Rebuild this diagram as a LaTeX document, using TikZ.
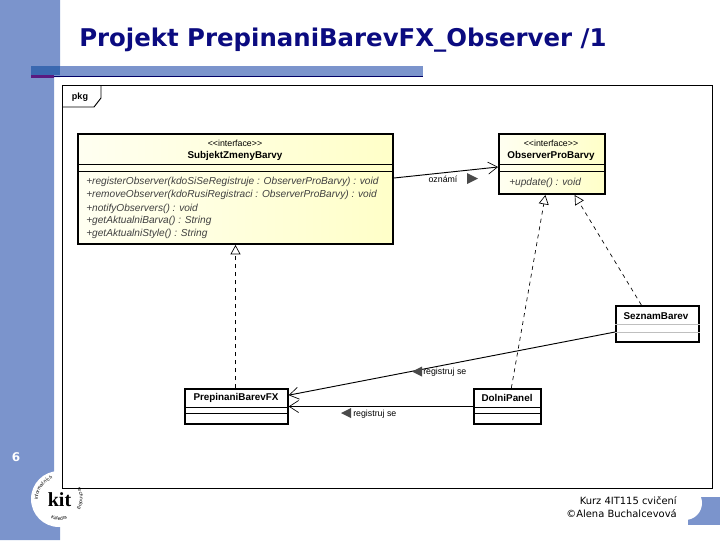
\documentclass[tikz,border=0pt]{standalone}
\usepackage{fontspec}
\setmainfont{Liberation Sans}
\newfontfamily\titlefont{DejaVu Sans}
\newfontfamily\kitfont{Liberation Serif}
\usetikzlibrary{arrows.meta,decorations.text}
\definecolor{slideblue}{HTML}{7B94CC}
\definecolor{bardark}{HTML}{3A68B0}
\definecolor{barpurple}{HTML}{5A1A80}
\definecolor{titleblue}{HTML}{0B0B80}
\definecolor{umlyellow}{HTML}{FFFFC8}
\definecolor{markgray}{HTML}{4A4A4A}
\tikzset{
  umlbox/.style={draw=black,line width=1.5pt,anchor=north west,inner sep=0pt},
  ifacebox/.style={umlbox,left color=umlyellow!25,right color=umlyellow},
  umlname/.style={font=\fontsize{7.4}{9}\selectfont\bfseries,inner sep=0pt},
  umlnote/.style={font=\fontsize{6.6}{8}\selectfont,inner sep=0pt},
  umlop/.style={font=\fontsize{7.6}{9}\selectfont\itshape,anchor=base west,inner sep=0pt,text=black!75},
  openhead/.style={-{Straight Barb[length=7pt,width=9pt,line width=0.5pt]},line width=0.7pt},
  implhead/.style={-{Triangle[open,fill=white,length=7pt,width=7.5pt,line width=0.5pt]},dashed,line width=0.5pt},
  dirmark/.style={fill=markgray,draw=none},
  ringtext/.style={decorate,decoration={text along path,text align=center,text={|\fontsize{3.6}{4}\selectfont|#1}}}
}
\begin{document}
\begin{tikzpicture}[x=0.75pt,y=-0.75pt]
  \useasboundingbox (0,0) rectangle (720,540);

  % Slide background
  \fill[slideblue] (0,0) -- (60,0) -- (60,77) -- (54,77) -- (54,480) -- (60,520) -- (60,540) -- (0,540) -- cycle;
  \fill[white] (59,499) circle (28);
  \fill[slideblue] (688,497) rectangle (720,525);
  \fill[white] (685,503) circle (17);

  % Title and bar
  \node[anchor=base west,inner sep=0pt,text=titleblue,font=\titlefont\bfseries\fontsize{18.3}{20}\selectfont] (title) at (79,46) {Projekt PrepinaniBarevFX\_Observer /1};
  \fill[slideblue] (60,66) rectangle (423,76);
  \fill[bardark] (31,66) rectangle (60,75);
  \fill[barpurple] (31,75) rectangle (54,78);
  \draw[black!60!blue,line width=0.6pt] (54,76.5) -- (423,76.5);

  % Package frame
  \node[draw=black,line width=0.7pt,anchor=north west,inner sep=0pt,minimum width=487.5pt,minimum height=302.25pt] (pkg) at (62,85) {};
  \node[inner sep=0pt,font=\fontsize{6.8}{8}\selectfont\bfseries] (pkglabel) at (80,97) {pkg};
  \draw[line width=0.7pt] (62,107) -- (94,107) -- (101,98) -- (101,85);

  % Interfaces
  \node[ifacebox,minimum width=236.25pt,minimum height=82.5pt] (subjekt) at (77,133) {};
  \node[ifacebox,minimum width=79.5pt,minimum height=45pt] (observer) at (498,133) {};
  \node[umlnote] (subjektnote) at (235,143) {<{}<interface>{}>};
  \node[umlname] (subjektname) at (235,156) {SubjektZmenyBarvy};
  \node[umlnote] (observernote) at (551,143) {<{}<interface>{}>};
  \node[umlname] (observername) at (551,156) {ObserverProBarvy};
  \draw[line width=0.7pt] (subjekt.west |- 0,164) -- (subjekt.east |- 0,164);
  \draw[line width=0.7pt] (subjekt.west |- 0,171) -- (subjekt.east |- 0,171);
  \draw[line width=0.7pt] (observer.west |- 0,164) -- (observer.east |- 0,164);
  \draw[line width=0.7pt] (observer.west |- 0,171) -- (observer.east |- 0,171);
  \foreach \ypos/\optext in {184/+registerObserver(kdoSiSeRegistruje : ObserverProBarvy) : void,
      197/+removeObserver(kdoRusiRegistraci : ObserverProBarvy) : void,
      211/+notifyObservers() : void,
      223/+getAktualniBarva() : String,
      236/+getAktualniStyle() : String}
    \node[umlop] at (86,\ypos) {\optext};
  \node[umlop] (updateop) at (509,185) {+update() : void};

  % Classes
  \node[umlbox,minimum width=62pt,minimum height=27pt] (seznam) at (615,305) {};
  \node[umlbox,minimum width=77pt,minimum height=26.25pt] (prepinani) at (184,388) {};
  \node[umlbox,minimum width=50pt,minimum height=26.25pt] (dolni) at (473,388) {};
  \node[umlname] (seznamname) at (656,316) {SeznamBarev};
  \node[umlname] (prepinaniname) at (236,398) {PrepinaniBarevFX};
  \node[umlname] (dolniname) at (507,398) {DolniPanel};
  \draw[line width=0.7pt,black!25] (seznam.west |- 0,324) -- (seznam.east |- 0,324);
  \draw[line width=0.7pt,black!25] (seznam.west |- 0,332) -- (seznam.east |- 0,332);
  \draw[line width=0.7pt] (prepinani.west |- 0,407) -- (prepinani.east |- 0,407);
  \draw[line width=0.7pt] (prepinani.west |- 0,413) -- (prepinani.east |- 0,413);
  \draw[line width=0.7pt] (dolni.west |- 0,407) -- (dolni.east |- 0,407);
  \draw[line width=0.7pt] (dolni.west |- 0,413) -- (dolni.east |- 0,413);

  % Connectors
  \draw[openhead] ([yshift=8.25pt]subjekt.east) -- ([yshift=-2.25pt]observer.west);
  \draw[openhead] ([yshift=-6pt]seznam.west) -- ([yshift=8.5pt]prepinani.east);
  \draw[openhead] (dolni.west) -- (prepinani.east);
  \draw[implhead] (prepinani.north -| subjekt.south) -- (subjekt.south);
  \draw[implhead] ([xshift=3pt]dolni.north) -- ([xshift=-5pt]observer.south);
  \draw[implhead] ([xshift=-12pt]seznam.north) -- ([xshift=17pt]observer.south);

  % Labels with direction marks
  \node[umlnote] (oznami) at (443,179) {oznámí};
  \fill[dirmark] (467,173) -- (478,178.5) -- (467,184) -- cycle;
  \node[umlnote,anchor=west] (registrujup) at (423,372) {registruj se};
  \fill[dirmark] (422,366.5) -- (412,371.5) -- (422,376.5) -- cycle;
  \node[umlnote,anchor=west] (registrujlow) at (353,414) {registruj se};
  \fill[dirmark] (351,408) -- (341,413) -- (351,418) -- cycle;

  % Page number and footer
  \node[text=white,font=\titlefont\bfseries\fontsize{9}{10}\selectfont,inner sep=0pt] (pagenum) at (16,457) {6};
  \node[anchor=east,align=right,inner sep=0pt,font=\titlefont\fontsize{7.45}{9.6}\selectfont] (footer) at (677,507) {Kurz 4IT115 cvičení\\©Alena Buchalcevová};

  % Logo
  \node[inner sep=0pt,font=\kitfont\bfseries\fontsize{15}{15}\selectfont] (kit) at (59.5,500) {kit};
  \path[ringtext=informačních] (40.8,509.5) arc[start angle=150,end angle=280,radius=21];
  \path[ringtext=technologií] (78.7,491.8) arc[start angle=340,end angle=385,radius=21];
  \path[ringtext=Katedra] (48.5,517.2) arc[start angle=120,end angle=60,radius=21];
\end{tikzpicture}
\end{document}
